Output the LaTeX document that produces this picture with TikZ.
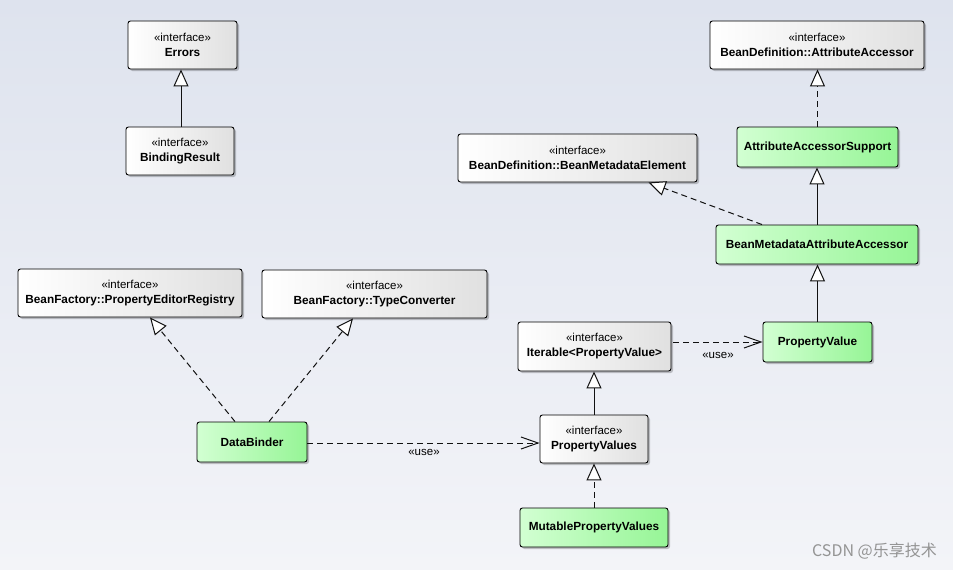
\documentclass[tikz,border=0pt]{standalone}
\usepackage{fontspec}
\setmainfont{Liberation Sans}
\newfontfamily\cjk{Noto Sans CJK SC}
\usetikzlibrary{arrows.meta,shadows}
\definecolor{bgA}{HTML}{DEE3EE}
\definecolor{bgB}{HTML}{F3F4F8}
\definecolor{grL}{HTML}{D2FFD2}
\definecolor{grR}{HTML}{96F596}
\definecolor{ifR}{HTML}{E0E0E0}
\definecolor{ln}{HTML}{111111}
\newcommand\stereo{{\fontsize{11.5}{15}\selectfont «interface»}}
\newcommand\nm[1]{{\bfseries #1}}
\tikzset{
  box/.style={draw=black, line width=0.9pt, rounded corners=2.5pt, inner sep=0pt, align=center,
    font=\fontsize{11.8}{15}\selectfont,
    drop shadow={shadow xshift=2pt,shadow yshift=-2pt,opacity=0.22,fill=black}},
  iface/.style={box, left color=white, right color=ifR},
  cls/.style={box, left color=grL, right color=grR},
  gen/.style={draw=ln, line width=1pt, -{Triangle[length=17pt,width=15pt,fill=white,line width=1pt]}},
  real/.style={gen, dash pattern=on 6pt off 4pt},
  usedep/.style={draw=ln, line width=1pt, dash pattern=on 6pt off 4pt, -{Straight Barb[length=17pt,width=12pt,line width=1pt]}},
  lbl/.style={font=\fontsize{11.5}{13}\selectfont, inner sep=0pt}
}
\begin{document}
\begin{tikzpicture}[x=1pt,y=-1pt]
\useasboundingbox (0,0) rectangle (953,570);
\shade[top color=bgA,bottom color=bgB] (0,0) rectangle (953,570);

\node[iface, minimum width=109pt, minimum height=48pt] (errors) at (182.5,45) {\stereo\\\nm{Errors}};
\node[iface, minimum width=108pt, minimum height=48pt] (bind) at (180,151) {\stereo\\\nm{BindingResult}};

\node[iface, minimum width=214pt, minimum height=48pt] (aa) at (817,45) {\stereo\\\nm{BeanDefinition::AttributeAccessor}};
\node[cls, minimum width=161pt, minimum height=40pt] (aas) at (817.5,147) {\nm{AttributeAccessorSupport}};
\node[iface, minimum width=239pt, minimum height=48pt] (bme) at (577.5,158) {\stereo\\\nm{BeanDefinition::BeanMetadataElement}};
\node[cls, minimum width=202pt, minimum height=39pt] (bmaa) at (817,244.5) {\nm{BeanMetadataAttributeAccessor}};

\node[iface, minimum width=224pt, minimum height=48pt] (per) at (130,293) {\stereo\\\nm{BeanFactory::PropertyEditorRegistry}};
\node[iface, minimum width=225pt, minimum height=48pt] (tc) at (374.5,294) {\stereo\\\nm{BeanFactory::TypeConverter}};
\node[cls, minimum width=110pt, minimum height=40pt] (db) at (252,442) {\nm{DataBinder}};

\node[iface, minimum width=153pt, minimum height=49pt] (it) at (594.5,346.5) {\stereo\\\nm{Iterable<PropertyValue>}};
\node[cls, minimum width=109pt, minimum height=40pt] (pv) at (817.5,342) {\nm{PropertyValue}};
\node[iface, minimum width=108pt, minimum height=48pt] (pvs) at (594,439) {\stereo\\\nm{PropertyValues}};
\node[cls, minimum width=148pt, minimum height=39pt] (mpv) at (594,527.5) {\nm{MutablePropertyValues}};

% connectors
\draw[gen] ([xshift=1pt]bind.north) -- ([xshift=1pt]bind.north |- errors.south);
\draw[real] (aas.north) -- (aas.north |- aa.south);
\draw[gen] (bmaa.north) -- (bmaa.north |- aas.south);
\draw[real] ([xshift=-55pt]bmaa.north) -- ([xshift=71pt]bme.south);
\draw[gen] (pv.north) -- (pv.north |- bmaa.south);
\draw[real] ([xshift=-17pt]db.north) -- ([xshift=20pt]per.south);
\draw[real] ([xshift=17pt]db.north) -- ([xshift=-21.5pt]tc.south);
\draw[usedep] ([yshift=-1pt]db.east) -- ([yshift=-1pt]db.east -| pvs.west);
\draw[usedep] ([xshift=2pt]it.east |- pv.west) -- (pv.west);
\draw[gen] (pvs.north) -- (pvs.north |- it.south);
\draw[real] (mpv.north) -- (pvs.south);

\node[lbl] (use1) at (424,452) {«use»};
\node[lbl] (use2) at (718,355) {«use»};

\node[text=black!42, font=\cjk\fontsize{16}{16}\selectfont, anchor=east, inner sep=0pt] (wm) at (937,551) {CSDN @乐享技术};
\end{tikzpicture}
\end{document}
